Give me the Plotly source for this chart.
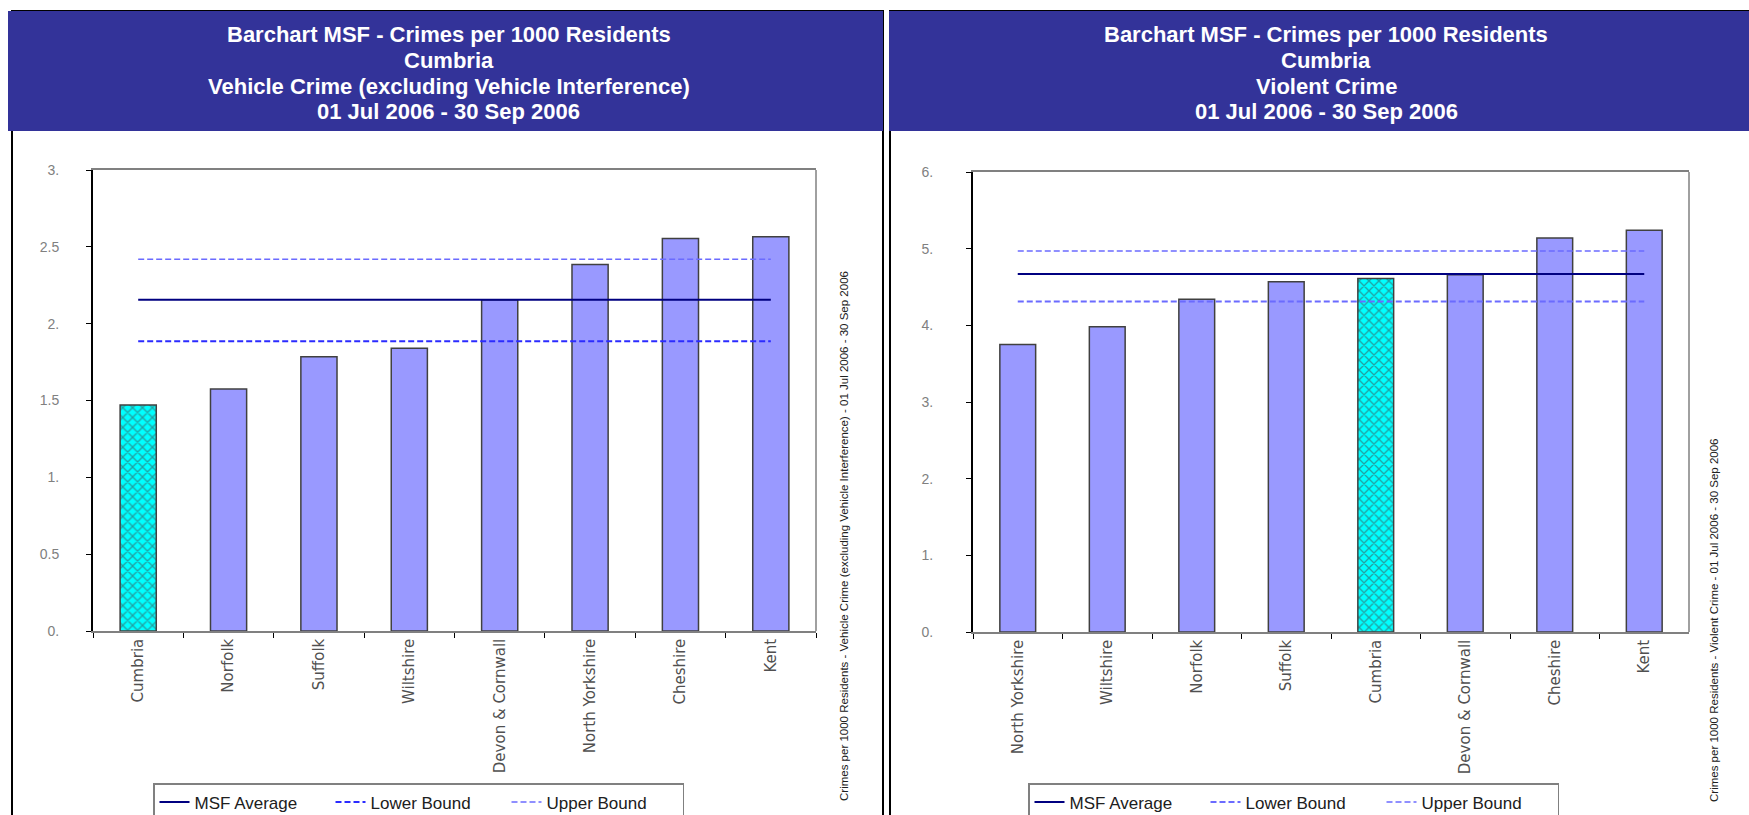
import plotly.graph_objects as go

W, H = 1749, 815

# ---------------- data ----------------
left_categories = ["Cumbria", "Norfolk", "Suffolk", "Wiltshire", "Devon & Cornwall",
                   "North Yorkshire", "Cheshire", "Kent"]
left_values = [1.47, 1.575, 1.785, 1.84, 2.155, 2.385, 2.555, 2.565]
left_msf_average = 2.155
left_lower_bound = 1.885
left_upper_bound = 2.42
left_title = ["Barchart MSF - Crimes per 1000 Residents", "Cumbria",
              "Vehicle Crime (excluding Vehicle Interference)", "01 Jul 2006 - 30 Sep 2006"]
left_side_note = ("Crimes per 1000 Residents - Vehicle Crime (excluding Vehicle Interference)"
                  " - 01 Jul 2006 - 30 Sep 2006")
left_tickvals = [0, 0.5, 1, 1.5, 2, 2.5, 3]
left_ticktext = ["0.", "0.5", "1.", "1.5", "2.", "2.5", "3."]

right_categories = ["North Yorkshire", "Wiltshire", "Norfolk", "Suffolk", "Cumbria",
                    "Devon & Cornwall", "Cheshire", "Kent"]
right_values = [3.75, 3.98, 4.34, 4.57, 4.61, 4.66, 5.14, 5.24]
right_msf_average = 4.67
right_lower_bound = 4.31
right_upper_bound = 4.97
right_title = ["Barchart MSF - Crimes per 1000 Residents", "Cumbria",
               "Violent Crime", "01 Jul 2006 - 30 Sep 2006"]
right_side_note = "Crimes per 1000 Residents - Violent Crime - 01 Jul 2006 - 30 Sep 2006"
right_tickvals = [0, 1, 2, 3, 4, 5, 6]
right_ticktext = ["0.", "1.", "2.", "3.", "4.", "5.", "6."]

highlight = "Cumbria"

# ---------------- styles ----------------
HEADER = "#333399"
BAR = "#9999FF"
HILITE = "#00FFFF"
AVG = "#000080"
TITLE_FONT = "Liberation Sans, Arial"
BODY_FONT = "Liberation Sans, Arial"
TICK_FONT = "DejaVu Sans, Liberation Sans"


def px(x):
    return x / W


def py(y):
    return 1 - y / H


fig = go.Figure()


def add_panel(idx, cats, vals, avg, lo, hi, lo_color, hi_color, legend_name):
    xa = "x" if idx == 1 else "x2"
    ya = "y" if idx == 1 else "y2"
    colors = [HILITE if c == highlight else BAR for c in cats]
    shapes = ["x" if c == highlight else "" for c in cats]
    fig.add_trace(go.Bar(
        x=cats, y=vals, xaxis=xa, yaxis=ya, width=0.4, showlegend=False,
        marker=dict(color=colors, line=dict(color="#404040", width=1.5),
                    pattern=dict(shape=shapes, fillmode="overlay", fgcolor="#004848",
                                 size=7, solidity=0.35)),
        hoverinfo="x+y"))
    ends = [cats[0], cats[-1]]
    fig.add_trace(go.Scatter(x=ends, y=[avg, avg], xaxis=xa, yaxis=ya, mode="lines",
                             name="MSF Average", legend=legend_name,
                             line=dict(color=AVG, width=2)))
    fig.add_trace(go.Scatter(x=ends, y=[lo, lo], xaxis=xa, yaxis=ya, mode="lines",
                             name="Lower Bound", legend=legend_name,
                             line=dict(color=lo_color, width=2, dash="6px,3px")))
    fig.add_trace(go.Scatter(x=ends, y=[hi, hi], xaxis=xa, yaxis=ya, mode="lines",
                             name="Upper Bound", legend=legend_name,
                             line=dict(color=hi_color, width=1.5, dash="6px,3px")))


add_panel(1, left_categories, left_values, left_msf_average, left_lower_bound,
          left_upper_bound, "#2B2BFF", "#6B6BFF", "legend")
add_panel(2, right_categories, right_values, right_msf_average, right_lower_bound,
          right_upper_bound, "#6B6BFF", "#6B6BFF", "legend2")

xaxis_common = dict(type="category", showline=True, linecolor="#808080", linewidth=1.5,
                    mirror=True, ticks="outside", tickson="boundaries", ticklen=5,
                    tickcolor="#000000", tickangle=-90, showgrid=False, zeroline=False,
                    tickfont=dict(family=TICK_FONT, size=15, color="#505050"))
yaxis_common = dict(showline=True, linecolor="#000000", linewidth=2, ticks="outside",
                    ticklen=5, tickcolor="#000000", showgrid=False, zeroline=False,
                    tickfont=dict(family=BODY_FONT, size=14, color="#808080"))

legend_common = dict(xanchor="left", yanchor="top", orientation="h",
                     bordercolor="#808080", borderwidth=1.5, bgcolor="white",
                     entrywidth=131, itemwidth=30,
                     font=dict(family=BODY_FONT, size=17, color="#202020"))

fig.update_layout(
    width=W, height=H, margin=dict(l=0, r=0, t=0, b=0, autoexpand=False),
    paper_bgcolor="white", plot_bgcolor="white",
    xaxis=dict(domain=[px(93), px(816)], anchor="y", **xaxis_common),
    yaxis=dict(domain=[py(631), py(170)], anchor="x", range=[0, 3],
               tickvals=left_tickvals, ticktext=left_ticktext,
               ticklabelstandoff=24, **yaxis_common),
    xaxis2=dict(domain=[px(973), px(1689)], anchor="y2", **xaxis_common),
    yaxis2=dict(domain=[py(632), py(172)], anchor="x2", range=[0, 6],
                tickvals=right_tickvals, ticktext=right_ticktext,
                ticklabelstandoff=30, **yaxis_common),
    legend=dict(x=px(153), y=py(783), **legend_common),
    legend2=dict(x=px(1028), y=py(783), **legend_common),
)

shapes = []
# panel borders
shapes.append(dict(type="rect", xref="paper", yref="paper", x0=px(12), x1=px(883),
                   y0=py(830), y1=py(11), line=dict(color="#000000", width=2)))
shapes.append(dict(type="rect", xref="paper", yref="paper", x0=px(890), x1=px(1760),
                   y0=py(830), y1=py(11), line=dict(color="#000000", width=2)))
# headers
shapes.append(dict(type="rect", xref="paper", yref="paper", x0=px(8), x1=px(883),
                   y0=py(131), y1=py(11), fillcolor=HEADER, line=dict(width=0)))
shapes.append(dict(type="rect", xref="paper", yref="paper", x0=px(889), x1=px(1760),
                   y0=py(131), y1=py(11), fillcolor=HEADER, line=dict(width=0)))
# grey right borders of plot areas
for xr, yr in (("x domain", "y domain"), ("x2 domain", "y2 domain")):
    shapes.append(dict(type="line", xref=xr, yref=yr, x0=1, x1=1, y0=0, y1=1,
                       line=dict(color="#808080", width=1.5)))
fig.update_layout(shapes=shapes)

ann = []
title_rows = [35, 60, 86, 112]
for cx, lines in ((449, left_title), (1326, right_title)):
    for yy, line in zip(title_rows, lines):
        ann.append(dict(xref="paper", yref="paper", x=px(cx), y=py(yy), xanchor="center",
                        yanchor="middle", showarrow=False, text="<b>" + line + "</b>",
                        font=dict(family=TITLE_FONT, size=22, color="white")))
ann.append(dict(xref="paper", yref="paper", x=px(844), y=py(536), xanchor="center",
                yanchor="middle", showarrow=False, text=left_side_note, textangle=-90,
                font=dict(family=BODY_FONT, size=11.5, color="#202020")))
ann.append(dict(xref="paper", yref="paper", x=px(1714), y=py(620), xanchor="center",
                yanchor="middle", showarrow=False, text=right_side_note, textangle=-90,
                font=dict(family=BODY_FONT, size=11.5, color="#202020")))
fig.update_layout(annotations=ann)

fig.write_html("out.html")
